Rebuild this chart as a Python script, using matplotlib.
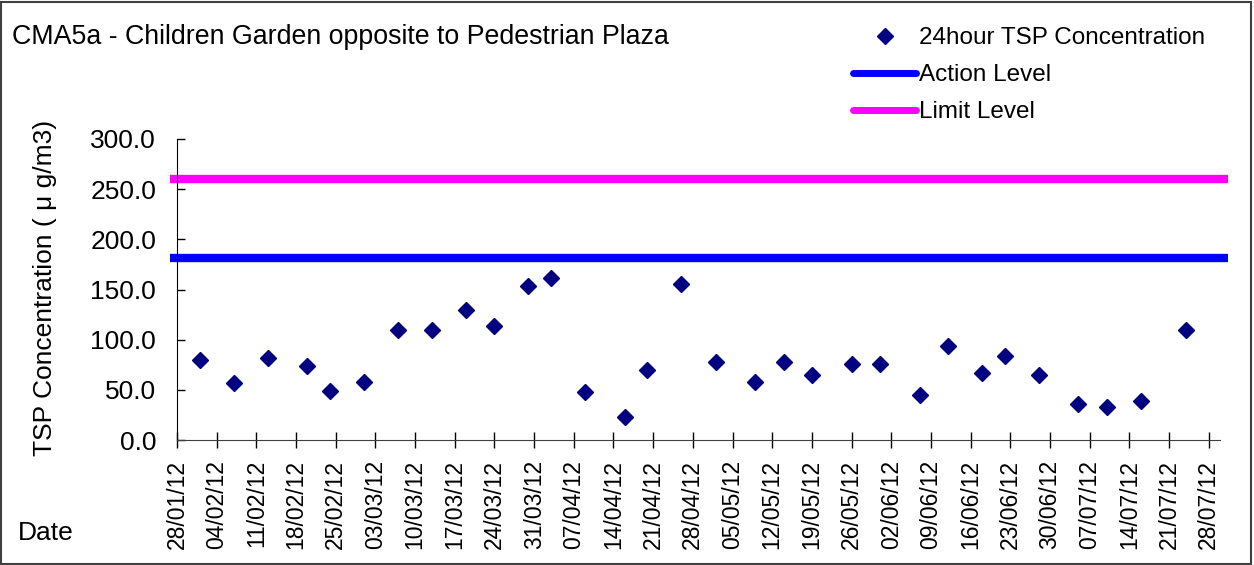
import matplotlib
matplotlib.use("Agg")
import matplotlib.pyplot as plt
import matplotlib.dates as mdates
from matplotlib.patches import Rectangle
from matplotlib.lines import Line2D
import datetime as dt

plt.rcParams['font.family'] = ['Liberation Sans', 'DejaVu Sans']

sample_dates = ["2012-02-01", "2012-02-07", "2012-02-13", "2012-02-20", "2012-02-24",
                "2012-03-01", "2012-03-07", "2012-03-13", "2012-03-19", "2012-03-24",
                "2012-03-30", "2012-04-03", "2012-04-09", "2012-04-16", "2012-04-20",
                "2012-04-26", "2012-05-02", "2012-05-09", "2012-05-14", "2012-05-19",
                "2012-05-26", "2012-05-31", "2012-06-07", "2012-06-12", "2012-06-18",
                "2012-06-22", "2012-06-28", "2012-07-05", "2012-07-10", "2012-07-16",
                "2012-07-24"]
tsp_values = [80, 57, 82, 74, 49, 58, 110, 110, 130, 114, 153, 161, 48, 23, 70,
              155, 78, 58, 78, 65, 76, 76, 45, 94, 67, 84, 65, 36, 33, 39, 110]
action_level = 181
limit_level = 260
tick_start = "2012-01-28"
tick_end = "2012-07-28"
axis_end = "2012-07-30"

dates = [dt.datetime.strptime(d, "%Y-%m-%d") for d in sample_dates]
t0 = dt.datetime.strptime(tick_start, "%Y-%m-%d")
t1 = dt.datetime.strptime(tick_end, "%Y-%m-%d")
tend = dt.datetime.strptime(axis_end, "%Y-%m-%d")
ticks = []
t = t0
while t <= t1:
    ticks.append(t)
    t += dt.timedelta(days=7)

W, H = 1254, 565
fig = plt.figure(figsize=(W / 100, H / 100), dpi=100)
fig.patch.set_facecolor('white')
fig.patches.append(Rectangle((0.001, 0.002), 0.997, 0.995, transform=fig.transFigure,
                             fill=False, edgecolor='#404040', linewidth=1.5))

left, right, top, bottom = 177, 1220, 139, 440
ax = fig.add_axes([left / W, (H - bottom) / H, (right - left) / W, (bottom - top) / H])

navy = '#000080'
ax.plot(dates, tsp_values, linestyle='none', marker='D', markersize=8,
        color=navy, zorder=3)
ax.axhline(action_level, color='#0000FF', linewidth=6, xmin=-0.007, xmax=1.008,
           clip_on=False, solid_capstyle='butt')
ax.axhline(limit_level, color='#FF00FF', linewidth=6, xmin=-0.007, xmax=1.008,
           clip_on=False, solid_capstyle='butt')

ax.set_xlim(t0, tend)
ax.set_ylim(0, 300)
ax.set_yticks([0, 50, 100, 150, 200, 250, 300])
ax.yaxis.set_major_formatter(matplotlib.ticker.FormatStrFormatter('%.1f'))
ax.set_xticks(ticks)
ax.xaxis.set_major_formatter(mdates.DateFormatter('%d/%m/%y'))
for s in ['top', 'right']:
    ax.spines[s].set_visible(False)
ax.spines['left'].set_color('black')
ax.spines['bottom'].set_color('#404040')
ax.tick_params(axis='x', direction='inout', length=11, width=1, labelsize=16.5,
               labelrotation=90, pad=9)
ax.tick_params(axis='y', direction='in', length=6, width=1, labelsize=19, pad=15)

fig.text(45 / W, 1 - 288 / H, 'TSP Concentration ( μ g/m3)', rotation=90,
         ha='center', va='center', fontsize=19)
fig.text(12 / W, 1 - 37 / H, 'CMA5a - Children Garden opposite to Pedestrian Plaza',
         ha='left', va='center', fontsize=19.3)
fig.text(18 / W, 1 - 533 / H, 'Date', ha='left', va='center', fontsize=19)

h1 = Line2D([], [], linestyle='none', marker='D', markersize=8, color=navy)
h2 = Line2D([], [], color='#0000FF', linewidth=5, solid_capstyle='round')
h3 = Line2D([], [], color='#FF00FF', linewidth=5, solid_capstyle='round')
fig.legend(handles=[h1, h2, h3],
           labels=['24hour TSP Concentration', 'Action Level', 'Limit Level'],
           loc='upper left', bbox_to_anchor=(853 / W, 1 - 27 / H),
           frameon=False, fontsize=17.5, handlelength=2.6, handletextpad=0.1,
           labelspacing=0.62, borderpad=0, borderaxespad=0)

fig.savefig('out.png', dpi=100)
